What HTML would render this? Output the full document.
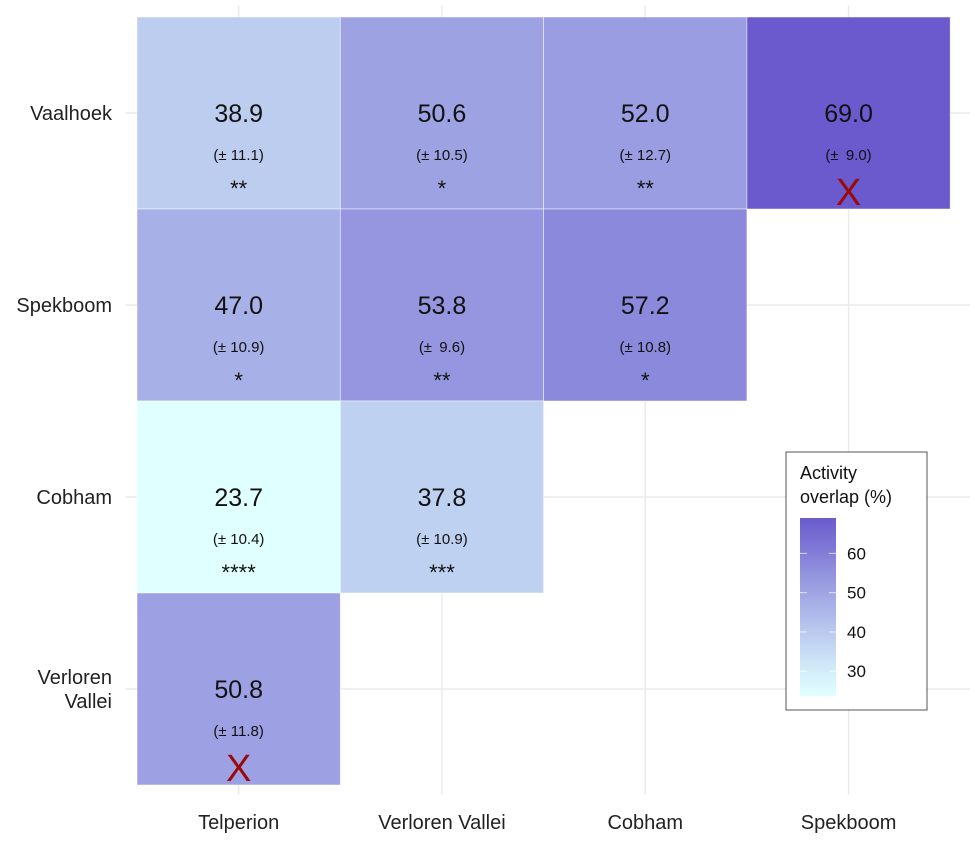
<!DOCTYPE html>
<html><head><meta charset="utf-8"><style>
body{margin:0;background:#fff;font-family:"Liberation Sans",Arial,sans-serif}
</style></head><body>
<svg width="975" height="838" xmlns="http://www.w3.org/2000/svg" font-family="Liberation Sans, Arial, sans-serif">
<g id="grid"></g><g id="cells"></g><g id="axes"></g><g id="legend"></g>
</svg>
<script>
const cols=["Telperion","Verloren Vallei","Cobham","Spekboom"];
const rows=["Vaalhoek","Spekboom","Cobham","Verloren Vallei"];
const cellRow=[0,0,0,0,1,1,1,2,2,3];
const cellCol=[0,1,2,3,0,1,2,0,1,0];
const values=[38.9,50.6,52.0,69.0,47.0,53.8,57.2,23.7,37.8,50.8];
const errors=["11.1","10.5","12.7"," 9.0","10.9"," 9.6","10.8","10.4","10.9","11.8"];
const signif=["**","*","**","X","*","**","*","****","***","X"];
const legendTicks=[30,40,50,60];
const vmin=23.7,vmax=69.0;
const NS="http://www.w3.org/2000/svg";
const x0=137,cw=203.3,y0=17,ch=192;
function xc(i){return x0+cw*i+cw/2;}
function yc(j){return y0+ch*j+ch/2;}
function col(v){const t=(v-vmin)/(vmax-vmin);const a=[224,255,255],b=[106,90,205];const tt=Math.pow(t,1.1);return "rgb("+a.map((c,k)=>Math.round(c+(b[k]-c)*tt)).join(",")+")";}
function el(tag,attrs,parent,txt){const e=document.createElementNS(NS,tag);for(const k in attrs)e.setAttribute(k,attrs[k]);if(txt!==undefined)e.textContent=txt;parent.appendChild(e);return e;}
const grid=document.getElementById("grid"),cells=document.getElementById("cells"),axes=document.getElementById("axes"),leg=document.getElementById("legend");
cols.forEach((c,i)=>{const l=el("line",{x1:xc(i),x2:xc(i),y1:5,y2:795,stroke:"#ebebeb","stroke-width":1.5},grid);});
rows.forEach((r,j)=>{const l=el("line",{x1:125,x2:970,y1:yc(j),y2:yc(j),stroke:"#ebebeb","stroke-width":1.5},grid);});
values.forEach((v,k)=>{
 const i=cellCol[k],j=cellRow[k];
 const g=el("g",{},cells);
 
 
 el("rect",{x:x0+cw*i,y:y0+ch*j,width:cw,height:ch,fill:col(v),stroke:"#fff","stroke-width":0.8,"stroke-opacity":0.6},g);
 el("text",{x:xc(i),y:yc(j)+9,"text-anchor":"middle","font-size":25,fill:"#111"},g,v.toFixed(1));
 el("text",{x:xc(i),y:yc(j)+47,"text-anchor":"middle","font-size":15,fill:"#111"},g,"(\u00b1 "+errors[k].replace(" ","\u2009")+")");
 if(signif[k]==="X") el("text",{x:xc(i),y:yc(j)+92,"text-anchor":"middle","font-size":38,fill:"#9b0a0a"},g,"X");
 else el("text",{x:xc(i),y:yc(j)+83,"text-anchor":"middle","font-size":22,fill:"#111"},g,signif[k]);
});
cols.forEach((c,i)=>{const t=el("text",{x:xc(i),y:829,"text-anchor":"middle","font-size":20,fill:"#222"},axes,c);});
rows.forEach((r,j)=>{const parts=r==="Verloren Vallei"?["Verloren","Vallei"]:[r];const n=parts.length;parts.forEach((p,q)=>{const t=el("text",{x:112,y:yc(j)+7+(q-(n-1)/2)*24,"text-anchor":"end","font-size":20,fill:"#222"},axes,p);});});
const lb=el("rect",{x:786,y:452,width:141,height:258,fill:"#fff",stroke:"#555","stroke-width":1},leg);

el("text",{x:800,y:479,"font-size":18,fill:"#111"},leg,"Activity");
el("text",{x:800,y:503,"font-size":18,fill:"#111"},leg,"overlap (%)");
const defs=el("defs",{},leg);const lg=el("linearGradient",{id:"gr",x1:0,y1:1,x2:0,y2:0},defs);
for(let s=0;s<=10;s++){const v=vmin+(vmax-vmin)*s/10;el("stop",{offset:s/10,"stop-color":col(v)},lg);}
const barTop=518,barBot=696;
function ly(v){return barBot-(v-vmin)/(vmax-vmin)*(barBot-barTop);}
const bar=el("rect",{x:800,y:barTop,width:36,height:barBot-barTop,fill:"url(#gr)"},leg);

legendTicks.forEach(v=>{el("line",{x1:800,x2:807,y1:ly(v),y2:ly(v),stroke:"#fff","stroke-width":1,opacity:0.7},leg);el("line",{x1:829,x2:836,y1:ly(v),y2:ly(v),stroke:"#fff","stroke-width":1,opacity:0.7},leg);const t=el("text",{x:847,y:ly(v)+6,"font-size":17,fill:"#111"},leg,v);});
</script>
</body></html>
